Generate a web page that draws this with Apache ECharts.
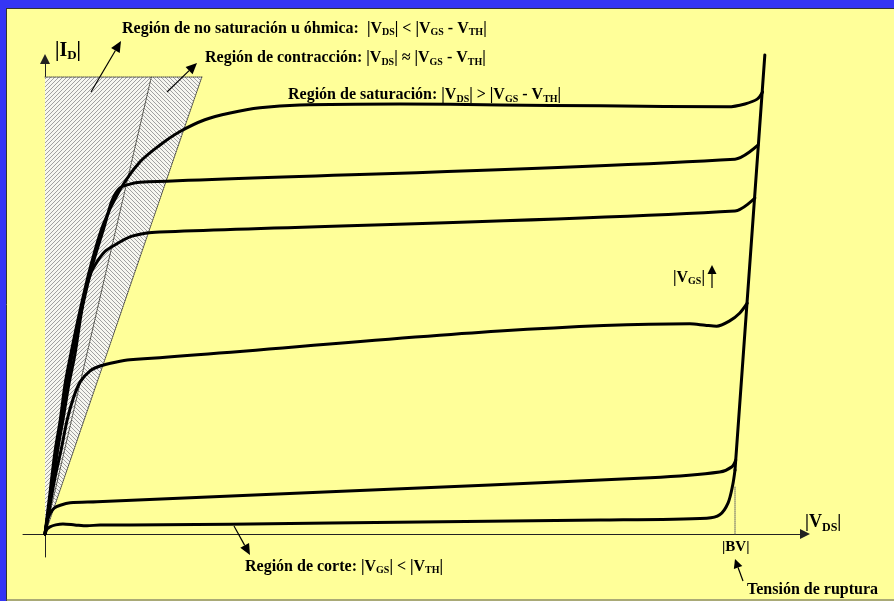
<!DOCTYPE html>
<html>
<head>
<meta charset="utf-8">
<script src="https://cdn.jsdelivr.net/npm/echarts@6/dist/echarts.min.js"></script>
<style>
  html, body { margin: 0; padding: 0; background: #ffff99; }
  #chart { width: 894px; height: 601px; }
</style>
</head>
<body>
<div id="chart"></div>
<script>
// MOSFET output characteristics: |I_D| versus |V_DS|, arbitrary units.

// One curve per gate voltage, highest |V_GS| first. Points are [|V_DS|, |I_D|].
const curveVgs1 = [[0,0],[0.3,4.0],[0.7,9.2],[1.3,17.1],[2.0,23.8],[2.6,31.0],[3.3,36.9],[4.6,46.7],[5.9,55.4],[7.6,64.4],[9.8,71.7],[12.4,77.5],[15.0,81.0],[17.6,83.8],[20.9,86.3],[24.2,87.7],[28.1,88.8],[33.3,89.4],[46.4,89.6],[59.5,89.4],[72.6,89.2],[89.3,89.0],[91.5,89.6],[93.1,90.6],[93.8,92.1]];
const curveVgs2 = [[0,0],[0.4,4.0],[0.9,9.2],[1.6,17.1],[2.2,23.8],[2.9,31.0],[3.5,36.9],[4.8,46.7],[6.1,55.4],[7.7,63.8],[8.8,69.6],[9.8,72.1],[11.1,72.9],[12.4,73.3],[90.2,78.1],[93.2,81.0]];
const curveVgs3 = [[0,0],[0.65,7.1],[1.4,15.4],[2.35,23.8],[3.1,31.0],[3.9,37.3],[4.6,44.6],[5.2,50.2],[6.0,54.4],[6.8,56.7],[7.8,58.8],[8.9,60.0],[11.1,61.9],[13.3,62.7],[15.0,62.9],[90.2,67.3],[92.8,70.0]];
const curveVgs4 = [[0,0],[0.65,6.0],[1.3,11.7],[2.1,17.5],[2.9,23.8],[3.7,28.3],[4.6,31.7],[5.9,34.0],[7.2,35.0],[9.2,35.8],[11.1,36.3],[84.3,43.8],[86.3,43.5],[87.8,43.3],[89.5,44.4],[90.8,46.0],[91.8,48.1]];
const curveVgs5 = [[0,0],[0.26,2.5],[0.65,4.2],[1.2,5.4],[2.0,6.0],[3.3,6.5],[6.8,6.7],[37.3,8.8],[79.1,11.7],[88.2,12.9],[89.8,14.0],[90.3,15.4]];
const curveCutoff = [[0,0],[0.26,1.0],[0.65,1.5],[1.4,1.9],[2.35,2.1],[3.9,1.9],[5.5,1.7],[7.2,1.9],[11.1,1.9],[37.3,2.3],[72.6,2.9],[86.5,3.3],[88.2,4.0],[89.3,6.5],[89.9,10.2],[90.2,13.3]];

// Avalanche breakdown line and the |BV| marker
const breakdownLine = [[90.2,13.3],[94.1,99.8]];
const bvMarker = [[90.2,0],[90.2,10]];

// Shaded regions next to the origin
const ohmicZone = [[0,0],[0,95.2],[13.9,95.2]];
const pinchZone = [[0,0],[13.9,95.2],[20.5,95.2]];
const zoneEdges = [
  [[0,0],[13.9,95.2]],
  [[0,95.2],[20.5,95.2]],
  [[0,0],[20.5,95.2]]
];

const curves = [curveVgs1, curveVgs2, curveVgs3, curveVgs4, curveVgs5, curveCutoff];

// Diagonal hatch tiles for the two shaded regions
function hatchTile(dir) {
  const c = document.createElement('canvas');
  c.width = 4; c.height = 4;
  const g = c.getContext('2d');
  g.fillStyle = '#f6f6f0';
  g.fillRect(0, 0, 4, 4);
  g.strokeStyle = '#a0a0a0';
  g.lineWidth = 1;
  g.beginPath();
  if (dir > 0) {
    g.moveTo(-1, 5); g.lineTo(5, -1);
    g.moveTo(-1, 1); g.lineTo(1, -1);
    g.moveTo(3, 5); g.lineTo(5, 3);
  } else {
    g.moveTo(-1, -1); g.lineTo(5, 5);
    g.moveTo(3, -1); g.lineTo(5, 1);
    g.moveTo(-1, 3); g.lineTo(1, 5);
  }
  g.stroke();
  return c;
}
const hatchOhmic = hatchTile(1);
const hatchPinch = hatchTile(-1);

function zoneSeries(points, tile) {
  return {
    type: 'custom',
    silent: true,
    z: 1,
    data: [0],
    renderItem: function (params, api) {
      return {
        type: 'polygon',
        shape: { points: points.map(function (p) { return api.coord(p); }) },
        style: { fill: { image: tile, repeat: 'repeat' } }
      };
    }
  };
}

function lineSeries(data, width, type, color, z) {
  return {
    type: 'line',
    data: data,
    symbol: 'none',
    smooth: 0.3,
    clip: false,
    silent: true,
    z: z,
    lineStyle: { width: width, type: type, color: color, cap: 'round', join: 'round' }
  };
}

// Arrow annotation: shaft plus filled head
function arrow(x1, y1, x2, y2, len, half) {
  const a = Math.atan2(y2 - y1, x2 - x1);
  const bx = x2 - len * Math.cos(a), by = y2 - len * Math.sin(a);
  const nx = -Math.sin(a) * half, ny = Math.cos(a) * half;
  return [
    { type: 'line', z: 20, shape: { x1: x1, y1: y1, x2: bx, y2: by }, style: { stroke: '#000', lineWidth: 1.2 } },
    { type: 'polygon', z: 20, shape: { points: [[x2, y2], [bx + nx, by + ny], [bx - nx, by - ny]] }, style: { fill: '#000' } }
  ];
}

const FONT = '"Liberation Serif", "Times New Roman", serif';
function label(x, y, text, size, subSize, lh) {
  return {
    type: 'text', z: 20,
    style: {
      x: x, y: y, text: text,
      fontFamily: FONT, fontWeight: 'bold', fontSize: size,
      lineHeight: lh, verticalAlign: 'top', align: 'left', fill: '#000',
      rich: {
        s: { fontFamily: FONT, fontWeight: 'bold', fontSize: subSize, lineHeight: subSize, verticalAlign: 'bottom', fill: '#000' }
      }
    }
  };
}

const series = [
  zoneSeries(ohmicZone, hatchOhmic),
  zoneSeries(pinchZone, hatchPinch)
];
zoneEdges.forEach(function (e) {
  const s = lineSeries(e, 1, 'dotted', '#444', 2);
  s.smooth = false;
  series.push(s);
});
const bv = lineSeries(bvMarker, 1, 'dotted', '#666', 2);
bv.smooth = false;
series.push(bv);
curves.forEach(function (c) { series.push(lineSeries(c, 3, 'solid', '#000', 5)); });
const bd = lineSeries(breakdownLine, 3, 'solid', '#000', 5);
bd.smooth = false;
series.push(bd);

const axisCommon = {
  type: 'value',
  axisLine: { show: true, onZero: true, symbol: ['none', 'triangle'], symbolSize: [10, 10], lineStyle: { color: '#222', width: 1 } },
  axisTick: { show: false },
  axisLabel: { show: false },
  splitLine: { show: false }
};

const graphics = [
  { type: 'rect', z: 30, shape: { x: 0, y: 0, width: 894, height: 8 }, style: { fill: '#3535f5' } },
  { type: 'rect', z: 30, shape: { x: 0, y: 0, width: 6, height: 601 }, style: { fill: '#3535f5' } },
  { type: 'line', z: 30, shape: { x1: 6, y1: 8.5, x2: 894, y2: 8.5 }, style: { stroke: '#333', lineWidth: 1 } },
  { type: 'line', z: 30, shape: { x1: 6.5, y1: 8, x2: 6.5, y2: 601 }, style: { stroke: '#333', lineWidth: 1 } },
  { type: 'line', z: 30, shape: { x1: 6, y1: 600, x2: 894, y2: 600 }, style: { stroke: '#555', lineWidth: 1 } },

  label(122, 19.6, 'Región de no saturación u óhmica:  |V{s|DS}| < |V{s|GS} - V{s|TH}|', 16, 10, 18),
  label(205, 49, 'Región de contracción: |V{s|DS}| ≈ |V{s|GS} - V{s|TH}|', 16, 10, 18),
  label(288, 86, 'Región de saturación: |V{s|DS}| > |V{s|GS} - V{s|TH}|', 16, 10, 18),
  label(245, 557.6, 'Región de corte: |V{s|GS}| < |V{s|TH}|', 16, 10, 18),
  label(673, 268.6, '|V{s|GS}|', 16, 10, 18),
  label(55, 38.5, '|I{s|D}|', 20, 13, 24),
  label(805, 510, '|V{s|DS}|', 18, 12, 24),
  label(722, 538, '|BV|', 15, 10, 18),
  label(747, 580.6, 'Tensión de ruptura', 16, 10, 18)
]
  .concat(arrow(91, 92, 121, 41, 11, 5))
  .concat(arrow(167, 92, 197, 63, 11, 5))
  .concat(arrow(234, 526, 250, 555, 11, 5))
  .concat(arrow(743, 581, 735, 559, 9, 4.5))
  .concat(arrow(712, 288, 712, 265, 9, 4.5));

const chart = echarts.init(document.getElementById('chart'), null, { renderer: 'canvas' });
chart.setOption({
  backgroundColor: '#ffff99',
  animation: false,
  grid: { left: 23, right: 89, top: 59, bottom: 44 },
  xAxis: Object.assign({ min: -2.876, max: 99.35 }, axisCommon),
  yAxis: Object.assign({ min: -4.79, max: 98.96 }, axisCommon),
  series: series,
  graphic: graphics
});
</script>
</body>
</html>
